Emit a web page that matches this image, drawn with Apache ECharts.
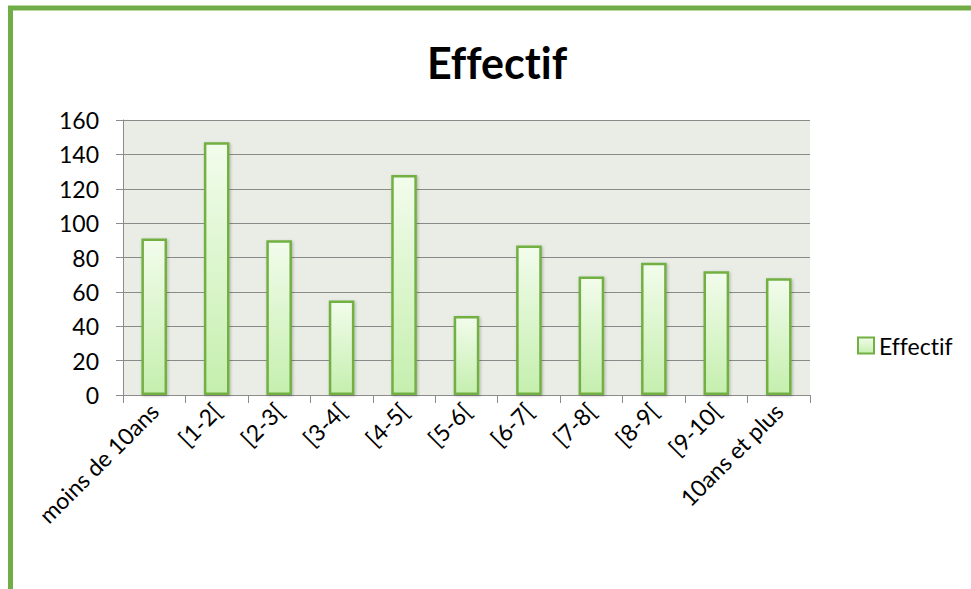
<!DOCTYPE html>
<html>
<head>
<meta charset="utf-8">
<script src="https://cdn.jsdelivr.net/npm/echarts@6/dist/echarts.min.js"></script>
<style>
  html, body { margin: 0; padding: 0; background: #ffffff; }
  #chart { width: 971px; height: 589px; font-variant-ligatures: none; }
  #chart text { font-variant-ligatures: none; }
</style>
</head>
<body>
<div id="chart"></div>
<script>
// Age bands and their counts
const categories = ['moins de 10ans', '[1-2[', '[2-3[', '[3-4[', '[4-5[', '[5-6[', '[6-7[', '[7-8[', '[8-9[', '[9-10[', '10ans et plus'];
const effectif = [91, 147, 90, 55, 128, 46, 87, 69, 77, 72, 68];
const yTicks = { min: 0, max: 160, interval: 20 };
const seriesName = 'Effectif';

const FONT = 'Lato, "Open Sans", sans-serif';
const chart = echarts.init(document.getElementById('chart'), null, { renderer: 'svg' });

const barFill = new echarts.graphic.LinearGradient(0, 0, 0, 1, [
  { offset: 0, color: '#f2fcec' },
  { offset: 1, color: '#c5efae' }
]);

chart.setOption({
  animation: false,
  backgroundColor: '#ffffff',
  title: {
    text: 'Effectif',
    left: 492,
    textAlign: 'center',
    top: 36,
    textStyle: { fontFamily: FONT, fontSize: 43, fontWeight: 'bold', color: '#000000' }
  },
  graphic: [
    {
      type: 'rect',
      shape: { x: 10.5, y: 8, width: 1200, height: 900 },
      style: { fill: 'none', stroke: '#70ad47', lineWidth: 5 },
      z: 100
    }
  ],
  legend: {
    data: [seriesName],
    left: 852,
    top: 329,
    itemWidth: 16,
    itemHeight: 16,
    itemGap: 5,
    icon: 'rect',
    textStyle: { fontFamily: FONT, fontSize: 23, color: '#000000' }
  },
  grid: {
    left: 123,
    right: 161,
    top: 120,
    bottom: 194,
    show: true,
    backgroundColor: '#e9ede5',
    borderWidth: 0
  },
  xAxis: {
    type: 'category',
    data: categories,
    axisLine: { show: true, lineStyle: { color: '#8c8c8c', width: 1 } },
    axisTick: { show: true, alignWithLabel: false, length: 8, lineStyle: { color: '#8c8c8c' } },
    axisLabel: {
      rotate: 45,
      interval: 0,
      margin: 12,
      fontFamily: FONT,
      fontSize: 23,
      color: '#000000'
    }
  },
  yAxis: {
    type: 'value',
    min: yTicks.min,
    max: yTicks.max,
    interval: yTicks.interval,
    axisLine: { show: true, lineStyle: { color: '#8c8c8c', width: 1 } },
    axisTick: { show: true, length: 7, lineStyle: { color: '#8c8c8c' } },
    axisLabel: { margin: 24, fontFamily: FONT, fontSize: 23, color: '#000000' },
    splitLine: { show: true, lineStyle: { color: '#8a8a8a', width: 1 } }
  },
  series: [
    {
      name: seriesName,
      type: 'bar',
      data: effectif,
      barWidth: '41%',
      itemStyle: {
        color: barFill,
        borderColor: '#72b043',
        borderWidth: 2.5,
        shadowColor: 'rgba(0,0,0,0.25)',
        shadowBlur: 3,
        shadowOffsetX: 1,
        shadowOffsetY: 1
      }
    }
  ]
});
</script>
</body>
</html>
